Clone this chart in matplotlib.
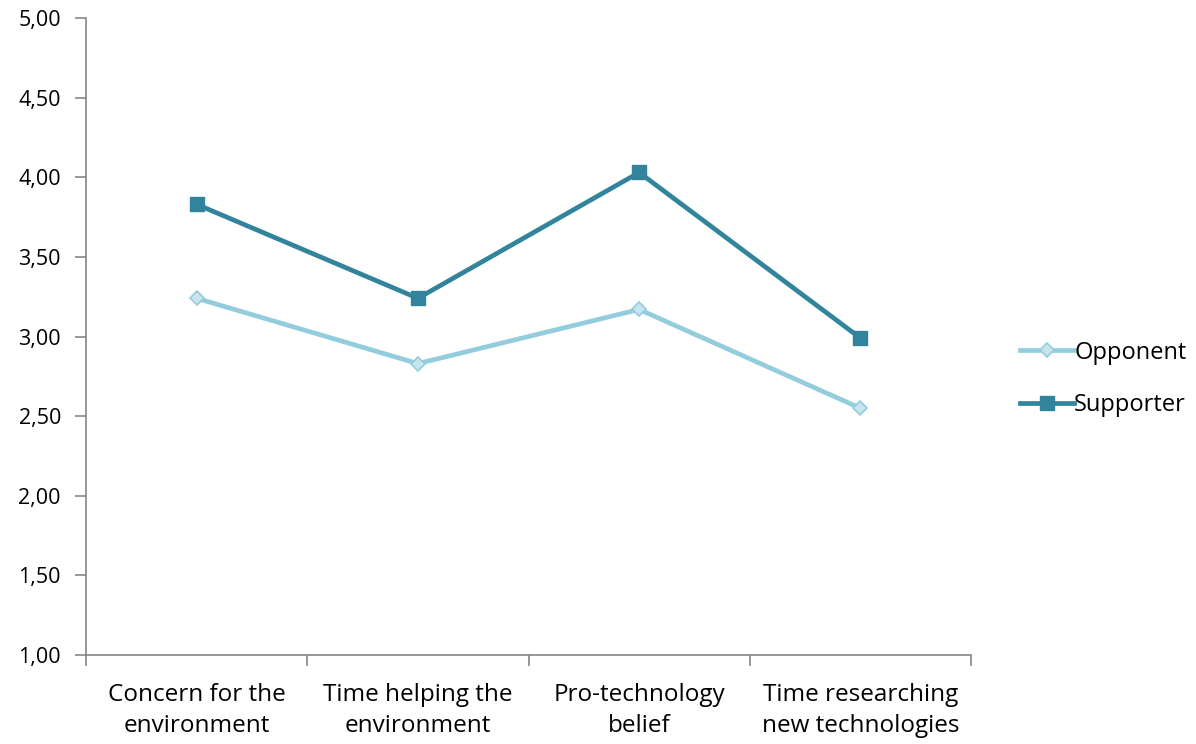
import matplotlib
matplotlib.use('Agg')
import matplotlib.pyplot as plt
import numpy as np

plt.rcParams['font.family'] = ['Open Sans', 'DejaVu Sans']

categories = ['Concern for the\nenvironment', 'Time helping the\nenvironment',
              'Pro-technology\nbelief', 'Time researching\nnew technologies']
opponent = [3.24, 2.83, 3.17, 2.55]
supporter = [3.83, 3.24, 4.03, 2.99]
yticks = [1.0, 1.5, 2.0, 2.5, 3.0, 3.5, 4.0, 4.5, 5.0]

fig = plt.figure(figsize=(11.96, 7.44), dpi=100)
ax = fig.add_axes([0.0719, 0.1196, 0.74, 0.8562])

x = np.arange(len(categories))
ax.plot(x, opponent, color='#93cddd', lw=3.4, marker='D', ms=7.5,
        mfc='#c5e4ed', mec='#93cddd', mew=1.2, label='Opponent')
ax.plot(x, supporter, color='#31849b', lw=3.4, marker='s', ms=10.5,
        mfc='#31849b', mec='#31849b', label='Supporter')

ax.set_xlim(-0.5, 3.5)
ax.set_ylim(1, 5)
ax.set_yticks(yticks)
ax.yaxis.set_major_formatter(plt.FuncFormatter(lambda v, p: ('%.2f' % v).replace('.', ',')))

ax.set_xticks(np.arange(-0.5, 4, 1))
ax.set_xticklabels([])
ax.set_xticks(x, minor=True)
ax.set_xticklabels(categories, minor=True, fontsize=17.5, linespacing=1.4)
ax.tick_params(axis='x', which='minor', length=0, pad=20)
ax.tick_params(axis='x', which='major', length=8, color='#868686', width=1.2)
ax.tick_params(axis='y', length=8, color='#868686', width=1.2, labelsize=15.5, pad=10)

for s in ['top', 'right']:
    ax.spines[s].set_visible(False)
for s in ['left', 'bottom']:
    ax.spines[s].set_color('#868686')
    ax.spines[s].set_linewidth(1.2)

fig.legend(loc='center left', bbox_to_anchor=(0.835, 0.491), frameon=False,
           fontsize=17, handlelength=2.3, handletextpad=0.0, labelspacing=1.2)

fig.savefig('out.png', dpi=100)
